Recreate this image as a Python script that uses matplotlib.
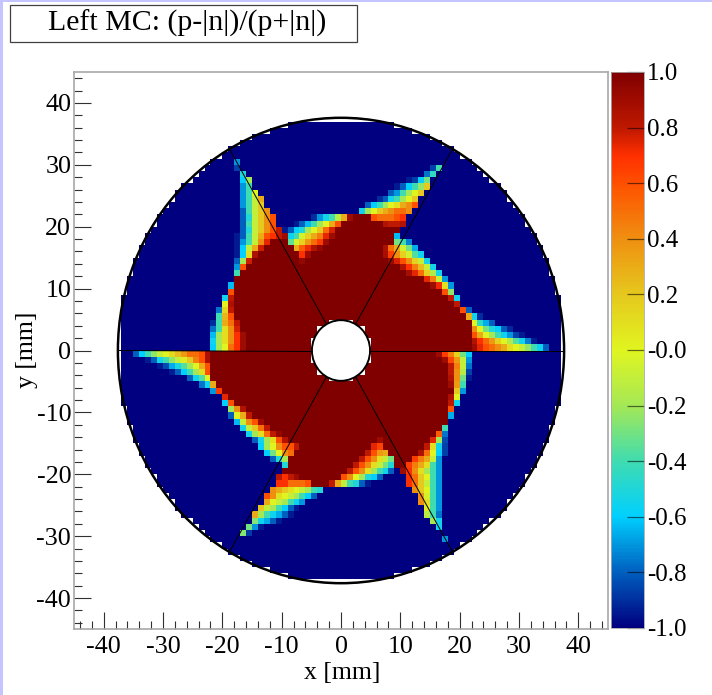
import numpy as np
import matplotlib
matplotlib.use('Agg')
import matplotlib.pyplot as plt
from matplotlib.colors import LinearSegmentedColormap
from matplotlib.patches import Circle, Rectangle

# 90 x 90 bins of 1 mm. Levels below are 0 = -1.0 ... 10 = +1.0
title = 'Left MC: (p-|n|)/(p+|n|)'
x_ticks = [-40, -30, -20, -10, 0, 10, 20, 30, 40]
y_ticks = [-40, -30, -20, -10, 0, 10, 20, 30, 40]
z_ticks = [-1.0, -0.8, -0.6, -0.4, -0.2, 0.0, 0.2, 0.4, 0.6, 0.8, 1.0]
z_labels = ['-1.0', '-0.8', '-0.6', '-0.4', '-0.2', '-0.0', '0.2', '0.4', '0.6', '0.8', '1.0']

# half width of filled disc per row, counted out from y=0
disc_half = [37, 37, 37, 37, 37, 37, 37, 37, 37, 36, 36, 36, 35, 35, 35, 34, 34, 33, 33,
             32, 31, 31, 30, 29, 28, 28, 27, 25, 24, 23, 22, 20, 19, 17, 15, 12, 9]
hole_half = [5, 5, 4, 4, 2]

# row: (first col, last col) of saturated bins
full_runs = {
    21: [(2, 4)], 20: [(0, 6)], 19: [(-1, 9)], 18: [(-1, 8)],
    17: [(-12, -10), (-2, 8)], 16: [(-13, -9), (-3, 6)], 15: [(-14, 6)], 14: [(-15, 7)],
    13: [(-16, 9)], 12: [(-17, 10)], 11: [(-18, 13)], 10: [(-18, 14)], 9: [(-18, 16)],
    8: [(-18, 17)], 7: [(-18, 18)], 6: [(-18, 19)], 5: [(-18, 20)], 4: [(-17, 21)],
    3: [(-17, 21)], 2: [(-16, 21)], 1: [(-16, 21)], 0: [(-16, 21)],
    -1: [(-22, 15)], -2: [(-22, 16)], -3: [(-22, 17)], -4: [(-22, 17)], -5: [(-22, 17)],
    -6: [(-21, 17)], -7: [(-20, 18)], -8: [(-19, 17)], -9: [(-18, 17)], -10: [(-16, 17)],
    -11: [(-15, 17)], -12: [(-13, 17)], -13: [(-12, 16)], -14: [(-10, 15)], -15: [(-9, 14)],
    -16: [(-7, 13)], -17: [(-8, 12)], -18: [(-9, 11)], -19: [(-9, 10)], -20: [(-10, 0)],
    -21: [(-7, -1)], -22: [(-5, -3)],
}

# row: (first col, levels going right) for the transition bins
edge_cells = {
    30: [(-18, [1.5])],
    29: [(-18, [0.7]), (15, [0.7, 3])],
    28: [(-17, [2.5]), (14, [1.2, 2.8])],
    27: [(-17, [2, 4]), (11, [.3, .7, 2, 3.5])],
    26: [(-17, [1.5, 3]), (9, [.3, 1, 2, 3, 3.8, 6])],
    25: [(-17, [1.5, 3, 5]), (8, [1, 1.5, 3, 4, 5, 6])],
    24: [(-17, [1.5, 3, 4.5, 6.5]), (6, [.5, 1, 2.3, 3, 4, 5, 6])],
    23: [(-17, [1.5, 3, 4.5, 6]), (4, [1, 2, 3, 4, 5, 5.5, 6.5, 7, 8])],
    22: [(-17, [1, 3, 4.5, 6, 7]), (3, [2.3, 4, 5, 6, 6.5, 7, 7.5, 7.5, 7])],
    21: [(-17, [1, 2.5, 4.5, 6, 7, 8]), (-5, [.5, 1.5, 2.3, 3, 4.3, 6.5, 9.5]), (5, [8, 7.5, 7.5, 7.5, 8, 8.5])],
    20: [(-17, [1, 3, 4.5, 6, 7, 8]), (-8, [.3, 1, 1.8, 3, 4, 5, 6.5, 8]), (7, [9.2, 9, 9, 9.2])],
    19: [(-17, [1, 2.5, 4.5, 6, 7, 8, 9]), (-10, [.3, 1, 2, 2.5, 4, 5, 6, 7.5, 8.8])],
    18: [(-18, [.3, 1, 3, 4.5, 6.5, 8, 8.5, 9, 9.5]), (-9, [2.2, 3, 4.8, 5.8, 6.5, 7.3, 8.7, 9.5]), (9, [1.8])],
    17: [(-18, [.3, 1.5, 3, 4.5, 7, 8.7]), (-9, [3.3, 4.8, 5.8, 6.8, 7.5, 8.3, 9.5]), (9, [3.5, 3, 1.3])],
    16: [(-18, [.3, 2, 4.5, 6.5, 8.9]), (-8, [6.5, 7.8, 8.6, 9.2, 9.7]), (7, [9.3, 7.5, 6.5, 4.7, 3.5, 1.7])],
    15: [(-18, [.3, 2, 5.5, 9.3]), (-7, [8.5, 9.5]), (7, [9.4, 8.3, 7, 5.8, 4.7, 3.2, 2.2])],
    14: [(-18, [1, 4, 8.9]), (-7, [9.7]), (8, [9.6, 8.8, 8, 7, 5.8, 4.5, 2.3])],
    13: [(-18, [1.5, 8]), (10, [9.2, 8.5, 7.3, 6.2, 4.5, 2.3])],
    12: [(-18, [3]), (11, [9.4, 8.7, 7.5, 5.8, 4.2, 2.3])],
    11: [(14, [8.7, 7.3, 4.6, 1.5])],
    10: [(-19, [1.8]), (15, [9.5, 8.6, 5.5, 1.5])],
    9: [(-19, [8]), (17, [8, 3.8])],
    8: [(-20, [2.2, 9]), (18, [9, 2.2])],
    7: [(-20, [5, 9.3]), (19, [9])],
    6: [(-21, [1.2, 5.7, 9]), (20, [8, 1])],
    5: [(-21, [3, 6.3, 8]), (21, [6.5, 2.3, .5])],
    4: [(-22, [.5, 3, 6.5, 7.5, 9]), (22, [5, 2.7, 1.7, 1])],
    3: [(-22, [1.2, 3, 5.5, 7, 8.8]), (22, [7, 5, 3.5, 2.5, 2, 1, .4])],
    2: [(-22, [1.8, 4, 5.5, 7, 8.5, 9.5]), (22, [8, 6.5, 5, 4, 3, 2.2, 1.5, .7, .3])],
    1: [(-22, [2.2, 4, 5.5, 7, 8.5, 9.5]), (22, [9.2, 8.5, 7.6, 6.8, 5.8, 5, 4.2, 3.2, 2.3, 1.3, .3])],
    0: [(-22, [2, 4, 5, 7.5, 8.5, 9.5]), (22, [9.5, 8.7, 8, 7.5, 7, 6.5, 5.5, 5, 4.5, 3.8, 3, 2.2, 1])],
    -1: [(-35, [1, 2, 3, 3.8, 4.5, 5, 5.6, 6.2, 6.8, 7.5, 7.5, 8, 9.3]), (16, [9.5, 8.3, 7.3, 5.8, 3.5, 2])],
    -2: [(-33, [.3, 1, 2.3, 3, 3.8, 4.5, 5.2, 6, 7.2, 8, 9.3]), (17, [9.5, 8.2, 6.8, 4.5, 1.5])],
    -3: [(-31, [.3, .8, 1.7, 2.4, 3.2, 4, 5, 6.5, 8]), (18, [9, 7.3, 4.5, 1.2])],
    -4: [(-29, [.3, 1, 2, 3, 4, 5.5, 8]), (18, [9, 7, 4.3, .7])],
    -5: [(-26, [1, 2.2, 3.2, 5]), (18, [9.2, 7, 3.5, .3])],
    -6: [(-24, [1.2, 2.2, 6.5]), (18, [9.5, 6.8, 3])],
    -7: [(-22, [1.5, 8.3]), (19, [6, 1.5])],
    -8: [(-20, [8.7]), (18, [9.3, 5])],
    -9: [(-20, [2, 8]), (18, [9, 2.2])],
    -10: [(-19, [4, 7, 9.2]), (18, [8])],
    -11: [(-19, [1, 5, 6.5, 9]), (18, [1.7])],
    -12: [(-18, [1.8, 4.5, 7, 8, 9.5])],
    -13: [(-17, [2.3, 4.5, 6, 7.5, 9]), (17, [3])],
    -14: [(-16, [2.3, 4, 5.5, 7.5, 9, 9.7]), (16, [7.8, 1.2])],
    -15: [(-15, [1, 2.3, 4, 5.5, 8, 9.2]), (6, [9.5]), (15, [8.7, 4, .8])],
    -16: [(-14, [2, 4, 5, 7, 8, 8, 9]), (5, [8.7, 8.2]), (14, [9, 5.5, 2.3, .7])],
    -17: [(-13, [2, 3.5, 5, 7, 7.5]), (4, [9, 8, 6.8, 6.5]), (13, [9.3, 7.5, 5, 2, .7])],
    -18: [(-12, [1, 2.5, 4]), (3, [9, 8, 7, 5.5, 4.5, 3.5]), (12, [8.3, 7.3, 6.5, 4.5, 1.5])],
    -19: [(-10, [2.5]), (2, [9, 8, 7, 5.5, 4.5, 3.5, 2.5]), (11, [8.3, 7.3, 6.5, 5.5, 3, 1.5])],
    -20: [(1, [9, 8, 7, 5.5, 4, 3, 2.3, 1]), (10, [9.5, 8.5, 7, 5.5, 4, 3, 1.5])],
    -21: [(-11, [9, 8.5, 9, 9.5]), (0, [8, 7, 5, 4, 2.5, 2, 1]), (11, [8.5, 7.5, 6, 5, 3, 1.5])],
    -22: [(-11, [8.5, 8.5, 7.5, 7.5, 7.5, 8]), (-2, [9, 6.5, 4.5, 3, 2.5, 1, .3]), (11, [8.5, 7.5, 6, 4.5, 3, 1.5])],
    -23: [(-12, [7, 6.5, 6, 5.5, 5, 4.5, 4, 3, 2.5]), (12, [7, 6, 5, 3, 1.5])],
    -24: [(-13, [8, 7, 5.5, 5, 4.5, 4, 3, 2, 1]), (13, [7, 4.8, 3, 1.5])],
    -25: [(-13, [6.5, 5, 4.5, 4, 3, 2.2, 1.5]), (13, [7, 5.5, 3, 1.5])],
    -26: [(-14, [6, 4.5, 4, 3, 2, 1, .3]), (14, [5.2, 3, 1.5])],
    -27: [(-15, [6.5, 4, 3, 2.2, 1.7, 1, .3]), (14, [4.3, 3, 1.2])],
    -28: [(-15, [3.7, 2.2, 1.7, 1, .3]), (15, [4, 2.3])],
    -29: [(-16, [3.5, 1.5, .3]), (16, [2.2])],
    -30: [(-17, [3.7, .6])],
    -31: [(17, [1.5])],
}

spoke_angles = [0, 60, 120, 180, 240, 300]
inner_radius = 4.9
outer_radius = 37.6

W, H = 712, 695
plt.rcParams['font.family'] = ['Liberation Serif', 'DejaVu Serif']
plt.rcParams['axes.unicode_minus'] = False


def fig_box(left, top, right, bottom):
    return [left / W, 1 - bottom / H, (right - left) / W, (bottom - top) / H]


def build_grid():
    grid = np.full((90, 90), np.nan)
    for row in range(-37, 37):
        half = disc_half[row if row >= 0 else -row - 1]
        grid[row + 45, 45 - half:45 + half] = 0
    for row, runs in full_runs.items():
        for c0, c1 in runs:
            grid[row + 45, c0 + 45:c1 + 46] = 10
    for row, segs in edge_cells.items():
        for c0, levels in segs:
            grid[row + 45, c0 + 45:c0 + 45 + len(levels)] = levels
    for n, half in enumerate(hole_half):
        grid[n + 45, 45 - half:45 + half] = np.nan
        grid[44 - n, 45 - half:45 + half] = np.nan
    return grid * 0.2 - 1


palette = LinearSegmentedColormap.from_list('root_jet', [
    (0.00, '#000080'), (0.10, '#0060c0'), (0.20, '#00d0ff'), (0.30, '#40dcb0'),
    (0.40, '#a5e855'), (0.50, '#e0f520'), (0.60, '#e6c81e'), (0.70, '#ef9010'),
    (0.80, '#ff5000'), (0.85, '#ff3000'), (0.90, '#c01800'), (1.00, '#800000')], N=256)

fig = plt.figure(figsize=(W / 100, H / 100), dpi=100, facecolor='#c4c4ff')
fig.add_artist(Rectangle((3 / W, 0), 1, 1 - 2 / H, transform=fig.transFigure,
                         facecolor='white', edgecolor='none', zorder=-5))

ax = fig.add_axes(fig_box(74, 72, 608, 629))
edges = np.arange(-45, 46)
mesh = ax.pcolormesh(edges, edges, build_grid(), cmap=palette, vmin=-1, vmax=1,
                     antialiased=False, linewidth=0)
ax.set_xlim(-45, 45)
ax.set_ylim(-45, 45)

for angle in spoke_angles:
    a = np.radians(angle)
    ax.plot([inner_radius * np.cos(a), outer_radius * np.cos(a)],
            [inner_radius * np.sin(a), outer_radius * np.sin(a)],
            color='black', lw=0.7, solid_capstyle='butt')
ax.add_patch(Circle((0, 0), outer_radius, fill=False, edgecolor='black', lw=1.8))
ax.add_patch(Circle((0, 0), inner_radius, facecolor='white', edgecolor='black', lw=1.4))

ax.set_xticks(x_ticks)
ax.set_yticks(y_ticks)
ax.set_xticks(np.arange(-44, 45, 2), minor=True)
ax.set_yticks(np.arange(-44, 45, 2), minor=True)
ax.tick_params(which='major', direction='in', length=12, width=0.8, color='#303030',
               labelsize=18.7)
ax.tick_params(which='minor', direction='in', length=6, width=0.8, color='#303030')
ax.tick_params(axis='x', which='major', pad=5)
ax.tick_params(axis='y', which='major', pad=2)
for spine in ax.spines.values():
    spine.set_color('#a8a8a8')
    spine.set_linewidth(1.2)

fig.text(342 / W, 1 - 673 / H, 'x [mm]', fontsize=18.5, ha='center', va='center')
fig.text(27 / W, 1 - 350 / H, 'y [mm]', fontsize=18.5, ha='center', va='center', rotation=90)

cax = fig.add_axes(fig_box(611, 72, 644, 628))
bar = fig.colorbar(mesh, cax=cax)
bar.set_ticks(z_ticks)
bar.set_ticklabels(z_labels)
cax.tick_params(direction='in', length=12.5, width=0.9, color='#00000090', labelsize=18, pad=2)
bar.outline.set_edgecolor('#a8a8a8')
bar.outline.set_linewidth(0.6)

fig.add_artist(Rectangle((9.5 / W, 1 - 42 / H), 347.5 / W, 37 / H, transform=fig.transFigure,
                         facecolor='white', edgecolor='#404040', lw=0.9))
fig.text(187 / W, 1 - 23 / H, title, fontsize=21.5, ha='center', va='center')

fig.savefig('out.png', dpi=100, facecolor=fig.get_facecolor())
